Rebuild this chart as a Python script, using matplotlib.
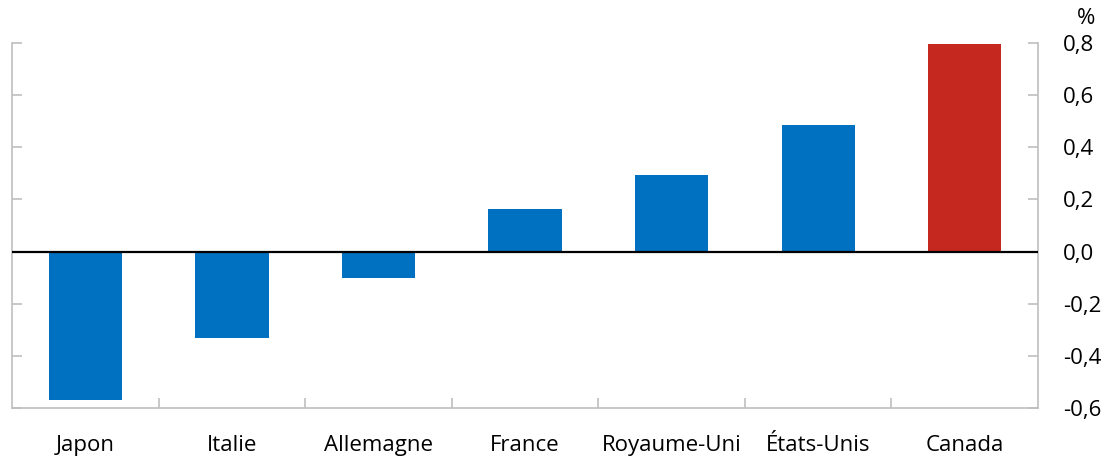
import matplotlib
matplotlib.use("Agg")
import matplotlib.pyplot as plt
import numpy as np

categories = ["Japon", "Italie", "Allemagne", "France", "Royaume-Uni", "États-Unis", "Canada"]
values = [-0.57, -0.33, -0.10, 0.165, 0.295, 0.485, 0.795]
colors = ["#0070C0"] * 6 + ["#C4281E"]
yticks = [-0.6, -0.4, -0.2, 0.0, 0.2, 0.4, 0.6, 0.8]
ytick_labels = ["-0,6", "-0,4", "-0,2", "0,0", "0,2", "0,4", "0,6", "0,8"]

plt.rcParams['font.family'] = ['Open Sans', 'DejaVu Sans']
fig = plt.figure(figsize=(11.08, 4.57), dpi=100)
ax = fig.add_axes([12/1108, 1-408/457, (1038-12)/1108, (408-43)/457])

x = np.arange(len(categories))
ax.bar(x, values, width=0.5, color=colors, zorder=2)
ax.axhline(0, color="black", linewidth=1.6, zorder=3)

ax.set_xlim(-0.5, len(categories) - 0.5)
ax.set_ylim(-0.6, 0.8)

grey = "#BFBFBF"
for s in ["left", "right", "bottom"]:
    ax.spines[s].set_color(grey)
    ax.spines[s].set_linewidth(1.2)
ax.spines["top"].set_visible(False)

ax.set_yticks(yticks)
ax.set_yticklabels(ytick_labels)
ax.yaxis.tick_right()
ax.tick_params(axis="y", which="major", direction="in", length=7, width=1.2,
               color=grey, left=True, right=True, labelleft=False, labelright=True,
               labelsize=16, pad=18)

ax.set_xticks(x)
ax.set_xticklabels(categories)
ax.set_xticks(np.arange(0.5, len(categories) - 1, 1.0), minor=True)
ax.tick_params(axis="x", which="major", length=0, labelsize=16, pad=19.5)
ax.tick_params(axis="x", which="minor", direction="in", length=7, width=1.2, color=grey)

fig.text(1086/1108, 1-18/457, "%", fontsize=16, ha="center", va="center")

fig.savefig("out.png", dpi=100)
